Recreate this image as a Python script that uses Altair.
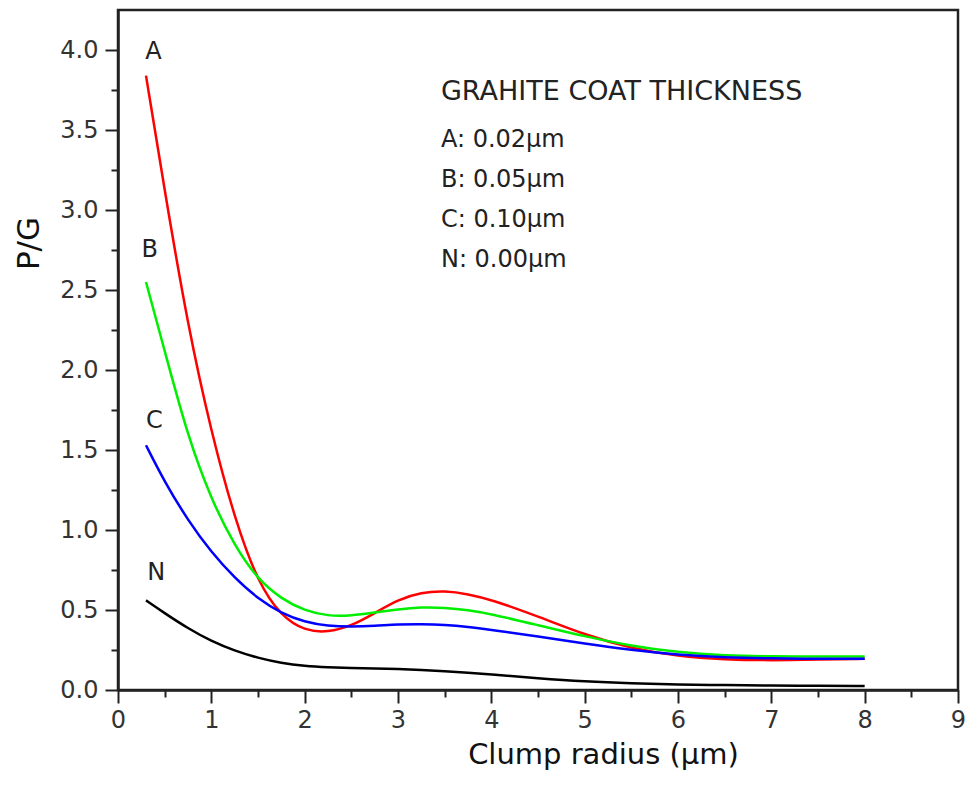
import altair as alt
import pandas as pd

# Shared x grid (clump radius, µm)
radius = [0.3, 0.5, 0.75, 1.0, 1.25, 1.5, 1.75, 2.0, 2.25, 2.5, 2.75, 3.0, 3.25,
          3.5, 3.75, 4.0, 4.5, 5.0, 5.5, 6.0, 6.5, 7.0, 7.5, 8.0]

pg_A = [3.84, 3.12, 2.27, 1.61, 1.07, 0.67, 0.46, 0.37, 0.36, 0.40, 0.48, 0.565, 0.61,
        0.62, 0.60, 0.565, 0.46, 0.345, 0.26, 0.21, 0.19, 0.185, 0.19, 0.195]
pg_B = [2.55, 2.12, 1.58, 1.19, 0.90, 0.69, 0.57, 0.495, 0.462, 0.465, 0.485, 0.505, 0.518,
        0.515, 0.50, 0.475, 0.405, 0.335, 0.275, 0.235, 0.215, 0.21, 0.21, 0.21]
pg_C = [1.53, 1.30, 1.06, 0.86, 0.70, 0.57, 0.48, 0.425, 0.40, 0.395, 0.40, 0.41, 0.412,
        0.408, 0.395, 0.375, 0.335, 0.29, 0.25, 0.22, 0.203, 0.197, 0.195, 0.195]
pg_N = [0.56, 0.48, 0.385, 0.305, 0.245, 0.2, 0.168, 0.15, 0.142, 0.137, 0.134, 0.131, 0.126,
        0.118, 0.108, 0.097, 0.073, 0.053, 0.041, 0.034, 0.031, 0.028, 0.026, 0.025]

series_names = ["N", "A", "B", "C"]
series_values = [pg_N, pg_A, pg_B, pg_C]
series_colors = ["#000000", "#ff0000", "#00ee00", "#0000ff"]

# Curve labels
curve_label_text = ["A", "B", "C", "N"]
curve_label_x = [0.38, 0.34, 0.39, 0.41]
curve_label_y = [3.99, 2.75, 1.68, 0.73]

# Legend-like annotation block
note_text = ["GRAHITE COAT THICKNESS", "A: 0.02\u00b5m", "B: 0.05\u00b5m", "C: 0.10\u00b5m", "N: 0.00\u00b5m"]
note_size = [27, 24, 24, 24, 24]
note_y = [3.74, 3.44, 3.19, 2.94, 2.69]
note_x = 3.46

x_ticks = [i * 0.5 for i in range(19)]
y_ticks = [i * 0.25 for i in range(17)]

rows = []
for name, vals in zip(series_names, series_values):
    for xv, yv in zip(radius, vals):
        rows.append({"series": name, "r": xv, "pg": yv})
df = pd.DataFrame(rows)

FONT = "DejaVu Sans"
AX = "#222222"

x_enc = alt.X("r:Q", scale=alt.Scale(domain=[0, 9], nice=False, zero=False),
              axis=alt.Axis(values=x_ticks, title="Clump radius (\u00b5m)",
                            labelExpr="datum.value % 1 === 0 ? format(datum.value, 'd') : ''",
                            tickSize={"condition": {"test": "datum.value % 1 === 0", "value": 13}, "value": 7},
                            tickWidth=2, domainWidth=2.5, domainColor=AX, tickColor=AX,
                            labelFont=FONT, labelFontSize=24, labelColor="#333", labelPadding=5,
                            labelFlush=False, labelOverlap=False, grid=False,
                            titleFont=FONT, titleFontSize=29, titleFontWeight="normal", titleColor="#111",
                            titleX=485, titleY=64, titleAlign="center", titleBaseline="middle"))
y_enc = alt.Y("pg:Q", scale=alt.Scale(domain=[0, 4.25], nice=False, zero=False),
              axis=alt.Axis(values=y_ticks, title="P/G",
                            labelExpr="datum.value % 0.5 === 0 ? format(datum.value, '.1f') : ''",
                            tickSize={"condition": {"test": "datum.value % 0.5 === 0", "value": 13}, "value": 7},
                            tickWidth=2, domainWidth=2.5, domainColor=AX, tickColor=AX,
                            labelFont=FONT, labelFontSize=24, labelColor="#333", labelPadding=7,
                            labelFlush=False, labelOverlap=False, grid=False,
                            titleFont=FONT, titleFontSize=31, titleFontWeight="normal", titleColor="#111",
                            titleAngle=270, titleX=-89, titleY=233, titleAlign="center", titleBaseline="middle"))

lines = alt.Chart(df).mark_line(strokeWidth=2.5, interpolate="basis").encode(
    x=x_enc,
    y=y_enc,
    color=alt.Color("series:N", scale=alt.Scale(domain=series_names, range=series_colors), legend=None),
    order=alt.Order("r:Q"),
)

lab_df = pd.DataFrame({"t": curve_label_text, "x": curve_label_x, "y": curve_label_y})
labels = alt.Chart(lab_df).mark_text(font=FONT, fontSize=24, color="#222", align="center", baseline="middle").encode(
    x="x:Q", y="y:Q", text="t:N")

note_df = pd.DataFrame({"t": note_text, "x": [note_x] * len(note_text), "y": note_y, "s": note_size})
notes = alt.Chart(note_df).mark_text(font=FONT, color="#222", align="left", baseline="middle").encode(
    x="x:Q", y="y:Q", text="t:N", size=alt.Size("s:Q", scale=None, legend=None))

chart = alt.layer(lines, labels, notes).properties(
    width=840, height=680,
    autosize=alt.AutoSizeParams(type="none"),
    padding={"left": 110, "top": 2, "right": 12, "bottom": 86},
).configure(background="white").configure_view(stroke=AX, strokeWidth=2.5)

chart.save("out.html", embed_options={"renderer": "svg", "actions": False})
